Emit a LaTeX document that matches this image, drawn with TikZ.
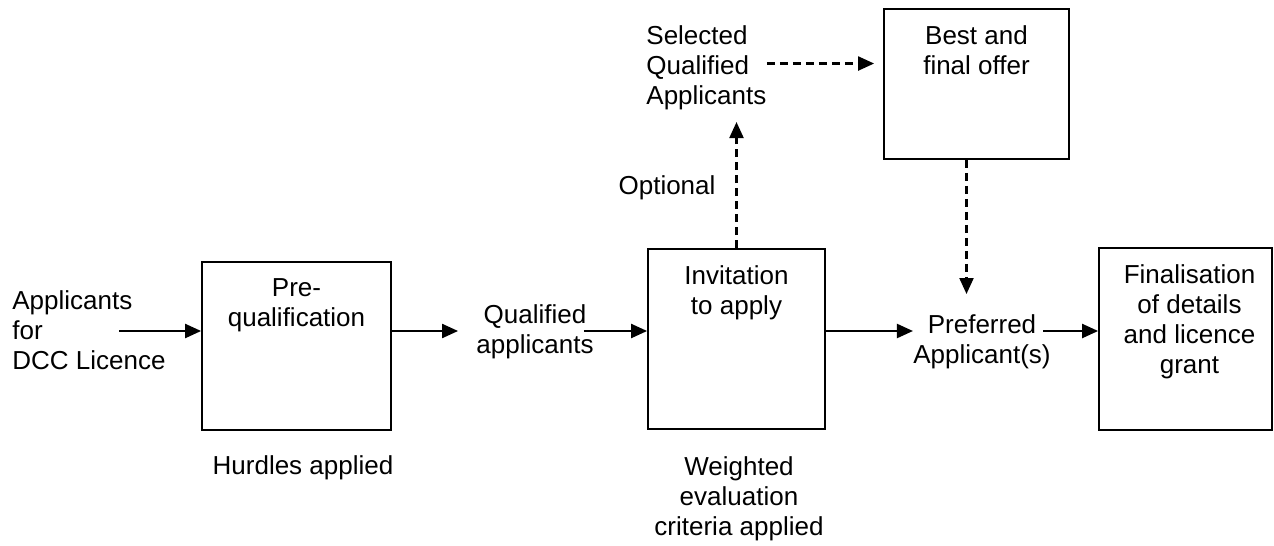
\documentclass[tikz,border=0pt]{standalone}
\usepackage{fontspec}
\setmainfont{Liberation Sans}
\usetikzlibrary{arrows.meta}
\tikzstyle{stage}=[draw, line width=.9pt, inner sep=0pt]
\tikzstyle{stage text}=[anchor=north, yshift=-8.5pt, align=center, inner sep=0pt]
\tikzstyle{free text}=[inner sep=0pt, align=center]
\tikzstyle{flow}=[line width=1.1pt, -{Triangle[length=8pt,width=7pt]}]
\tikzstyle{optional flow}=[flow, dash pattern=on 4pt off 2.5pt]

\begin{document}
\begin{tikzpicture}[x=.5pt,y=-.5pt,font=\fontsize{13pt}{15pt}\selectfont]
    \useasboundingbox (0,0) rectangle (1274,546);

    % Stages
    \draw (296.5,346) node[stage,minimum width=94.5pt,minimum height=84pt] (pre) {};
    \draw (736.5,339) node[stage,minimum width=88.5pt,minimum height=90pt] (inv) {};
    \draw (976.5,84) node[stage,minimum width=92.5pt,minimum height=75pt] (best) {};
    \draw (1185.5,339) node[stage,minimum width=86.5pt,minimum height=91pt] (fin) {};

    % Stage texts
    \draw (pre.north) node[stage text] (pretext) {Pre-\\qualification};
    \draw (inv.north) node[stage text] (invtext) {Invitation\\to apply};
    \draw (best.north) node[stage text] (besttext) {Best and\\final offer};
    \draw (fin.north) node[stage text,xshift=2pt] (fintext) {Finalisation\\of details\\and licence\\grant};

    % Labels
    \draw (12,290) node[free text,anchor=north west,align=left] (appl) {Applicants\\for\\DCC Licence};
    \draw (303,474) node[free text,anchor=base] (hurdles) {Hurdles applied};
    \draw (535,304) node[free text,anchor=north] (qual) {Qualified\\applicants};
    \draw (646,25) node[free text,anchor=north west,align=left] (sel) {Selected\\Qualified\\Applicants};
    \draw (667,194) node[free text,anchor=base] (opt) {Optional};
    \draw (739,456) node[free text,anchor=north] (weighted) {Weighted\\evaluation\\criteria applied};
    \draw (982,314) node[free text,anchor=north] (pref) {Preferred\\Applicant(s)};

    % Flows
    \coordinate (lvl) at (0,331);
    \coordinate (applout) at (119,331);
    \draw[flow] (applout) -- (applout -| pre.west);
    \draw[flow,shorten >=9pt] (pre.east |- lvl) -- (qual.west |- lvl);
    \draw[flow] ([xshift=-5pt]qual.east |- lvl) -- (inv.west |- lvl);
    \draw[flow] (inv.east |- lvl) -- (pref.west |- lvl);
    \draw[flow] ([xshift=-4pt]pref.east |- lvl) -- (fin.west |- lvl);

    % Optional route
    \draw[optional flow,shorten >=6pt] (inv.north) -- (inv.north |- sel.south);
    \draw[optional flow,shorten >=4.5pt] ([yshift=2pt]sel.east) -- ([yshift=2pt]sel.east -| best.west);
    \draw[optional flow,shorten >=10pt] ([xshift=-5pt]best.south) -- ([xshift=-5pt]best.south |- pref.north);

\end{tikzpicture}
\end{document}
